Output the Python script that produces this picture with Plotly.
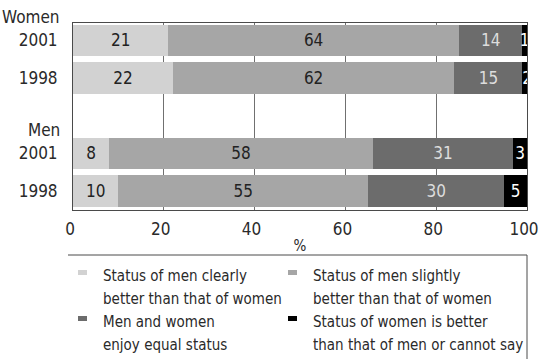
import plotly.graph_objects as go

# Survey rows (top to bottom) and answer shares in %
groups = ["Women", "Men"]
years = ["2001", "1998", "2001", "1998"]
clearly_better = [21, 22, 8, 10]
slightly_better = [64, 62, 58, 55]
equal_status = [14, 15, 31, 30]
women_better = [1, 2, 3, 5]

series_names = [
    "Status of men clearly<br>better than that of women",
    "Status of men slightly<br>better than that of women",
    "Men and women<br>enjoy equal status",
    "Status of women is better<br>than that of men or cannot say",
]
series_values = [clearly_better, slightly_better, equal_status, women_better]
x_ticks = [0, 20, 40, 60, 80, 100]

# layout constants
W, H = 539, 359
L, R, T, B = 73, 12, 23, 149
row_pos = [0, 1, 3, 4]
colors = ["#d2d2d2", "#a6a6a6", "#6c6c6c", "#000000"]
text_colors = ["#222222", "#222222", "#dddddd", "#ffffff"]
FONT = "Liberation Sans Narrow, DejaVu Sans Condensed, Arial Narrow, sans-serif"
INK = "#2a2a2a"
RULE = "#4a4a4a"


def px_x(p):
    return (p - L) / (W - L - R)


def px_y(p):
    return (H - B - p) / (H - B - T)


fig = go.Figure()
for name, vals, col, tcol in zip(series_names, series_values, colors, text_colors):
    fig.add_trace(go.Bar(
        y=row_pos, x=vals, orientation="h", name=name,
        marker=dict(color=col, line=dict(width=0)),
        width=0.84,
        text=[str(v) for v in vals], textposition="inside",
        insidetextanchor="middle", textangle=0, constraintext="none",
        textfont=dict(family=FONT, size=17, color=tcol),
        cliponaxis=True, showlegend=False,
    ))

fig.update_layout(
    barmode="stack",
    width=W, height=H,
    margin=dict(l=L, r=R, t=T, b=B, autoexpand=False),
    paper_bgcolor="white", plot_bgcolor="white",
    font=dict(family=FONT, size=17, color=INK),
    showlegend=False,
)

fig.update_xaxes(
    range=[0, 100], tickvals=x_ticks, ticktext=[str(t) for t in x_ticks],
    showgrid=True, gridcolor="#707070", gridwidth=1,
    showline=True, linecolor=RULE, linewidth=1, mirror=True,
    ticks="", tickfont=dict(size=17), zeroline=False, automargin=False,
    ticklabelstandoff=4, ticklabelshift=-3, ticklabeloverflow="allow",
    title=dict(text="%", font=dict(size=15), standoff=2),
)
fig.update_yaxes(
    range=[4.5, -0.46], tickvals=row_pos, ticktext=years,
    showgrid=False, showline=True, linecolor=RULE, linewidth=1,
    mirror=True, ticks="", tickfont=dict(size=17), ticklabelstandoff=11,
    zeroline=False, automargin=False,
)

# group headers above each pair of rows
fig.add_annotation(
    text=groups[0], xref="paper", x=0, xanchor="right", xshift=-11,
    yref="paper", y=px_y(17), yanchor="middle", showarrow=False,
    font=dict(family=FONT, size=17, color=INK),
)
fig.add_annotation(
    text=groups[1], xref="paper", x=0, xanchor="right", xshift=-11,
    yref="y", y=2.37, yanchor="middle", showarrow=False,
    font=dict(family=FONT, size=17, color=INK),
)

# key frame: rule on top and a border down the right side
fig.add_shape(
    type="line", xref="paper", yref="paper",
    x0=px_x(68), x1=px_x(527), y0=px_y(255), y1=px_y(255),
    line=dict(color=RULE, width=1),
)
fig.add_shape(
    type="line", xref="paper", yref="paper",
    x0=px_x(527), x1=px_x(527), y0=px_y(255), y1=px_y(H),
    line=dict(color=RULE, width=1),
)

# key: two columns, two entries per column, each label on two lines
for i, (name, col) in enumerate(zip(series_names, colors)):
    c, r = i % 2, i // 2
    mx = 78 + c * 210
    ty = 276 + r * 46
    fig.add_shape(
        type="rect", xref="paper", yref="paper",
        x0=px_x(mx), x1=px_x(mx + 9), y0=px_y(ty - 1), y1=px_y(ty - 6),
        fillcolor=col, line=dict(width=0),
    )
    for k, line in enumerate(name.split("<br>")):
        fig.add_annotation(
            text=line, xref="paper", yref="paper",
            x=px_x(mx + 23), y=px_y(ty + k * 23),
            xanchor="left", yanchor="middle", showarrow=False,
            font=dict(family=FONT, size=15, color=INK),
        )

fig.write_html("out.html")
